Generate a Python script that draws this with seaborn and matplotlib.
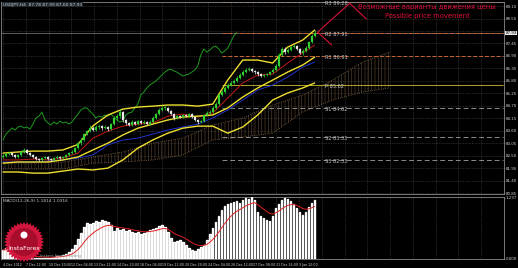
import numpy as np
import pandas as pd
import matplotlib
matplotlib.use("Agg")
import matplotlib.pyplot as plt
import seaborn as sns
from matplotlib.patches import Polygon, Ellipse
from matplotlib import font_manager

sns.set_style("dark")
plt.rcParams['font.family'] = ['DejaVu Sans']
plt.rcParams['hatch.linewidth'] = 0.5

_names = {f.name for f in font_manager.fontManager.ttflist}
NARROW = [f for f in ['Liberation Sans Narrow', 'DejaVu Sans Condensed'] if f in _names] + ['DejaVu Sans']

# ---------------- data ----------------
first_open = 82.45
close = [82.49, 82.58, 82.62, 82.54, 82.45, 82.54, 82.67, 82.76, 82.62, 82.54,
         82.45, 82.36, 82.32, 82.40, 82.45, 82.36, 82.32, 82.40, 82.45, 82.40,
         82.45, 82.54, 82.62, 82.67, 82.84, 83.06, 83.20, 83.46, 83.59, 83.73,
         83.64, 83.77, 83.81, 83.73, 83.77, 83.68, 83.90, 84.17, 84.25, 84.43,
         84.08, 83.95, 83.86, 83.99, 83.90, 84.03, 83.95, 83.99, 83.90, 83.99,
         84.17, 84.34, 84.52, 84.61, 84.61, 84.47, 84.34, 84.17, 84.25, 84.21,
         84.30, 84.25, 84.34, 84.21, 84.08, 83.99, 84.03, 84.30, 84.39, 84.43,
         84.61, 84.78, 85.18, 85.31, 85.49, 85.62, 85.71, 85.80, 85.93, 86.06,
         86.19, 86.28, 86.32, 86.24, 86.19, 86.10, 86.02, 86.06, 86.10, 86.19,
         86.28, 86.46, 86.94, 87.21, 87.07, 87.16, 87.29, 87.34, 87.21, 87.03,
         87.12, 87.25, 87.51, 87.78, 87.93]
high = [82.58, 82.64, 82.70, 82.68, 82.60, 82.60, 82.74, 82.85, 82.80, 82.66,
        82.58, 82.50, 82.42, 82.46, 82.51, 82.49, 82.41, 82.45, 82.52, 82.50,
        82.51, 82.60, 82.69, 82.74, 82.90, 83.12, 83.28, 83.52, 83.66, 83.84,
        83.80, 83.85, 83.90, 83.88, 83.84, 83.82, 83.96, 84.24, 84.34, 84.58,
        84.48, 84.14, 84.00, 84.06, 84.04, 84.10, 84.08, 84.06, 84.04, 84.06,
        84.24, 84.41, 84.60, 84.70, 84.68, 84.66, 84.52, 84.40, 84.32, 84.30,
        84.36, 84.35, 84.40, 84.38, 84.26, 84.12, 84.10, 84.36, 84.46, 84.50,
        84.68, 84.86, 85.26, 85.40, 85.56, 85.70, 85.80, 85.88, 86.01, 86.14,
        86.27, 86.37, 86.42, 86.38, 86.30, 86.25, 86.16, 86.12, 86.17, 86.26,
        86.35, 86.53, 87.02, 87.30, 87.28, 87.24, 87.36, 87.42, 87.40, 87.26,
        87.19, 87.32, 87.58, 87.86, 88.04]
low = [82.40, 82.44, 82.52, 82.48, 82.40, 82.41, 82.50, 82.62, 82.57, 82.48,
       82.40, 82.30, 82.26, 82.28, 82.36, 82.31, 82.27, 82.28, 82.36, 82.35,
       82.35, 82.41, 82.50, 82.57, 82.62, 82.79, 83.00, 83.15, 83.40, 83.53,
       83.58, 83.58, 83.70, 83.66, 83.67, 83.60, 83.62, 83.85, 84.10, 84.18,
       84.00, 83.88, 83.80, 83.80, 83.84, 83.85, 83.89, 83.90, 83.84, 83.85,
       83.94, 84.12, 84.29, 84.46, 84.54, 84.42, 84.28, 84.10, 84.12, 84.15,
       84.16, 84.20, 84.20, 84.16, 84.02, 83.92, 83.94, 83.98, 84.25, 84.34,
       84.38, 84.56, 84.72, 85.12, 85.25, 85.44, 85.56, 85.65, 85.74, 85.88,
       86.00, 86.13, 86.22, 86.18, 86.12, 86.04, 85.96, 85.96, 86.00, 86.05,
       86.13, 86.22, 86.40, 86.88, 87.00, 87.01, 87.10, 87.24, 87.15, 86.97,
       86.96, 87.07, 87.20, 87.46, 87.73]

line_bars = [0, 5, 10, 15, 20, 25, 30, 35, 40, 45, 50, 55, 60, 65, 70, 75, 80, 85, 90, 95, 100, 104]
bb_upper = [82.62, 82.67, 82.71, 82.71, 82.76, 83.00, 83.82, 84.30, 84.56, 84.65, 84.69,
            84.74, 84.74, 84.69, 84.78, 85.84, 86.72, 86.72, 86.59, 87.29, 87.60, 88.04]
bb_mid = [82.18, 82.23, 82.23, 82.23, 82.32, 82.45, 82.76, 83.06, 83.42, 83.72, 83.90,
          84.08, 84.21, 84.25, 84.30, 84.61, 85.09, 85.49, 85.84, 86.19, 86.50, 86.85]
bb_lower = [81.79, 81.79, 81.74, 81.74, 81.83, 81.92, 81.88, 81.96, 82.32, 82.84, 83.20,
            83.50, 83.72, 83.81, 83.81, 83.50, 83.77, 84.30, 84.96, 85.27, 85.49, 85.71]
tenkan = [82.32, 82.32, 82.36, 82.32, 82.40, 82.62, 83.28, 83.59, 83.81, 83.90, 83.95,
          84.25, 84.34, 84.21, 84.39, 85.05, 85.71, 86.06, 86.10, 86.59, 87.03, 87.38]
kijun = [82.23, 82.23, 82.23, 82.27, 82.32, 82.40, 82.54, 82.98, 83.20, 83.28, 83.46,
         83.64, 83.77, 83.90, 84.17, 84.52, 84.96, 85.40, 85.62, 85.97, 86.41, 86.63]

cloud_bars = [0, 10, 20, 30, 40, 50, 60, 70, 80, 90, 100, 110, 120, 129]
span_a = [82.18, 82.18, 82.23, 82.45, 82.67, 83.06, 83.28, 83.86, 84.17, 84.74, 85.18, 85.84, 86.63, 87.07]
span_b = [81.92, 81.92, 81.92, 82.18, 82.23, 82.32, 82.54, 83.20, 83.33, 83.50, 84.43, 84.96, 85.31, 85.49]
chikou_shift = 26

macd = [0.18, 0.22, 0.14, 0.10, 0.06, 0.04, 0.04, 0.04, 0.04, 0.04,
        0.03, 0.02, 0.02, 0.02, 0.02, 0.02, 0.03, 0.04, 0.06, 0.06,
        0.08, 0.10, 0.14, 0.20, 0.28, 0.40, 0.52, 0.64, 0.72, 0.70,
        0.72, 0.76, 0.74, 0.78, 0.76, 0.74, 0.68, 0.56, 0.62, 0.58,
        0.60, 0.56, 0.58, 0.54, 0.52, 0.54, 0.50, 0.52, 0.54, 0.58,
        0.60, 0.62, 0.66, 0.68, 0.64, 0.54, 0.42, 0.34, 0.36, 0.38,
        0.34, 0.28, 0.22, 0.18, 0.16, 0.20, 0.24, 0.28, 0.38, 0.50,
        0.62, 0.74, 0.86, 0.98, 1.06, 1.10, 1.12, 1.14, 1.16, 1.12,
        1.18, 1.22, 1.20, 1.24, 1.18, 0.94, 0.86, 0.82, 0.78, 0.76,
        0.86, 1.02, 1.10, 1.18, 1.22, 1.20, 1.16, 1.10, 1.02, 0.94,
        0.88, 0.94, 1.04, 1.12, 1.18]

pivot_names = ["R3", "R2", "R1", "P", "S1", "S2", "S3"]
pivot_values = [89.28, 87.91, 86.91, 85.62, 84.62, 83.33, 82.33]
pivot_start_bar = 73

arrow_x = [121.3, 115.7, 105.0, 109.7]
arrow_y = [88.53, 89.22, 87.95, 87.38]

price_ticks = [89.10, 88.55, 88.00, 87.45, 86.90, 86.35, 85.80, 85.25,
               84.70, 84.15, 83.60, 83.05, 82.50, 81.95, 81.40, 80.85]
date_labels = ["4 Dec 2012", "7 Dec 12:00", "10 Dec 20:00", "12 Dec 04:00", "13 Dec 12:00",
               "14 Dec 20:00", "18 Dec 04:00", "19 Dec 12:00", "20 Dec 20:00", "24 Dec 04:00",
               "26 Dec 12:00", "27 Dec 08:00", "31 Dec 16:00", "3 Jan 12:00"]
title_text = "USDJPY,H4  87.78 87.99 87.60 87.93"
macd_text = "MACD(12,26,9) 1.1814 1.0316"
note_ru = "Возможные варианты движения цены"
note_en = "Possible price movement"

# ---------------- figure ----------------
W, H = 518, 268
fig = plt.figure(figsize=(W / 100, H / 100), dpi=100, facecolor='black')


def box(x0, y0, x1, y1):
    return [x0 / W, 1 - y1 / H, (x1 - x0) / W, (y1 - y0) / H]


ax = fig.add_axes(box(1, 1.5, 504, 194))
ax2 = fig.add_axes(box(1, 197, 504, 259))
XL = (-0.667, 167.0)
grid_pos = np.arange(0, 168, 7.6)
grid_kw = dict(color='#4a4a4a', linestyle=(0, (1, 1.5)), linewidth=0.5)

for a in (ax, ax2):
    a.set_facecolor('black')
    a.set_xlim(*XL)
    for s in a.spines.values():
        s.set_color('#8a8a8a')
        s.set_linewidth(0.6)
    a.yaxis.tick_right()
    a.tick_params(axis='y', colors='#8a8a8a', labelcolor='#d0d0d0', labelsize=2.9,
                  length=1.0, width=0.4, pad=0.4)
    a.tick_params(axis='x', colors='#8a8a8a', labelcolor='#d0d0d0', labelsize=2.3,
                  length=2, width=0.4, pad=0.8)

ax.set_ylim(80.82, 89.30)
ax.set_yticks(price_ticks)
# the 88.00 label sits under the current-price box, as in the reference
ax.set_yticklabels([f"{v:.2f}" if abs(v - close[-1]) > 0.2 else "" for v in price_ticks],
                   family=NARROW)
ax.set_xticks(grid_pos)
ax.set_xticklabels([])
ax.tick_params(axis='x', length=0)
ax.grid(True, **grid_kw)

n = len(close)
bars = np.arange(n)
opens = [first_open] + close[:-1]

# Ichimoku cloud
ax.fill_between(cloud_bars, span_a, span_b, facecolor='none', edgecolor='#4e3c28',
                hatch='|||||', linewidth=0, zorder=1)
sns.lineplot(x=cloud_bars, y=span_a, ax=ax, color='#8a6a44', linewidth=0.6,
             linestyle=':', legend=False, zorder=2)
sns.lineplot(x=cloud_bars, y=span_b, ax=ax, color='#8a6a44', linewidth=0.6,
             linestyle=':', legend=False, zorder=2)

# bid line and pivots
ax.axhline(close[-1], color='#6a6a6a', linewidth=0.6, zorder=2)
for name, v in zip(pivot_names, pivot_values):
    if name.startswith('R'):
        col, ls = '#c86432', (0, (4, 2))
    elif name == 'P':
        col, ls = '#b0a428', '-'
    else:
        col, ls = '#8c8c8c', (0, (5, 3))
    ax.hlines(v, pivot_start_bar, XL[1], colors=col, linestyles=ls, linewidth=0.7, zorder=2)
    ax.text(107.3, v - 0.07, f"{name} {v:.2f}", fontsize=3.6, color='#c8c8c8',
            va='center', ha='left', zorder=6)

# indicator lines
sns.lineplot(x=bars[chikou_shift:] - chikou_shift, y=close[chikou_shift:], ax=ax,
             color='#1f9a1f', linewidth=0.7, legend=False, zorder=3)
sns.lineplot(x=line_bars, y=kijun, ax=ax, color='#2233cc', linewidth=0.7, legend=False, zorder=3)
sns.lineplot(x=line_bars, y=tenkan, ax=ax, color='#c41818', linewidth=0.7, legend=False, zorder=3)
for band in (bb_upper, bb_mid, bb_lower):
    sns.lineplot(x=line_bars, y=band, ax=ax, color='#eee030', linewidth=1.0, legend=False, zorder=4)

# candles
for i in range(n):
    o, c = opens[i], close[i]
    col = '#38e038' if c >= o else '#f2f2f2'
    ax.vlines(i, low[i], high[i], color=col, linewidth=0.5, zorder=5)
    ax.bar(i, max(abs(c - o), 0.025), bottom=min(o, c), width=0.62, color=col,
           edgecolor='#1a8a1a' if c >= o else '#bbbbbb', linewidth=0.2, zorder=5)

# annotations
ax.plot(arrow_x, arrow_y, color='#d8103a', linewidth=0.8, zorder=6)
ax.text(141.5, 89.06, note_ru, fontsize=4.9, color='#e0103c', ha='center', va='center', zorder=6)
ax.text(141.5, 88.66, note_en, fontsize=4.9, color='#e0103c', ha='center', va='center', zorder=6)
ax.text(0.004, 0.994, title_text, transform=ax.transAxes, fontsize=3.2, color='#c8c8c8',
        va='top', ha='left', zorder=7, family=NARROW,
        bbox=dict(facecolor='#202830', edgecolor='none', pad=0.6))
ax.text(1.003, 87.91, f"{close[-1]:.2f}", transform=ax.get_yaxis_transform(),
        fontsize=2.9, color='black', va='center', ha='left', zorder=8, clip_on=False,
        family=NARROW, bbox=dict(facecolor='#e8e8e8', edgecolor='none', pad=0.3))

# MACD panel
signal = pd.Series(macd).ewm(span=9, adjust=False).mean().values
ax2.bar(bars, macd, width=0.5, color='#c4c4c4', zorder=3)
sns.lineplot(x=bars, y=signal, ax=ax2, color='#e02020', linewidth=0.7, legend=False, zorder=4)
ax2.set_ylim(0, 1.25)
ax2.set_yticks([0.0, 1.237])
ax2.set_yticklabels(["0.000", "1.237"], family=NARROW)
ax2.set_xticks(grid_pos)
ax2.set_xticklabels(date_labels + [''] * (len(grid_pos) - len(date_labels)), ha='left',
                    family=NARROW)
ax2.grid(True, axis='x', **grid_kw)
ax2.grid(False, axis='y')
ax2.text(0.004, 0.96, macd_text, transform=ax2.transAxes, fontsize=3.1, color='#c8c8c8',
         va='top', ha='left', zorder=7, family=NARROW)
ax2.set_xlabel('')
ax2.set_ylabel('')
ax.set_xlabel('')
ax.set_ylabel('')

# InstaForex logo
cx, cy, r1, r2 = 24, 242, 20, 17.5
ang = np.linspace(0, 2 * np.pi, 73)[:-1]
rad = np.where(np.arange(72) % 2 == 0, r1, r2)
pts = np.column_stack([(cx + rad * np.cos(ang)) / W, 1 - (cy + rad * np.sin(ang)) / H])
fig.add_artist(Polygon(pts, closed=True, facecolor='#d0163c', edgecolor='none',
                       transform=fig.transFigure, zorder=10))
fig.add_artist(Ellipse((cx / W, 1 - cy / H), 28 / W, 28 / H, facecolor='#a80e2c',
                       edgecolor='none', transform=fig.transFigure, zorder=11))
fig.add_artist(Ellipse((cx / W, 1 - 235 / H), 7 / W, 7 / H, facecolor='white',
                       edgecolor='none', transform=fig.transFigure, zorder=12))
fig.text(cx / W, 1 - 248 / H, "InstaForex", fontsize=4.4, color='white', ha='center',
         va='center', zorder=12)
fig.text(40 / W, 1 - 256 / H, "Instant Forex Trading", fontsize=2.8, color='#9a9a9a',
         ha='left', va='center', zorder=12, family=NARROW)

fig.savefig("out.png", dpi=100, facecolor='black')
